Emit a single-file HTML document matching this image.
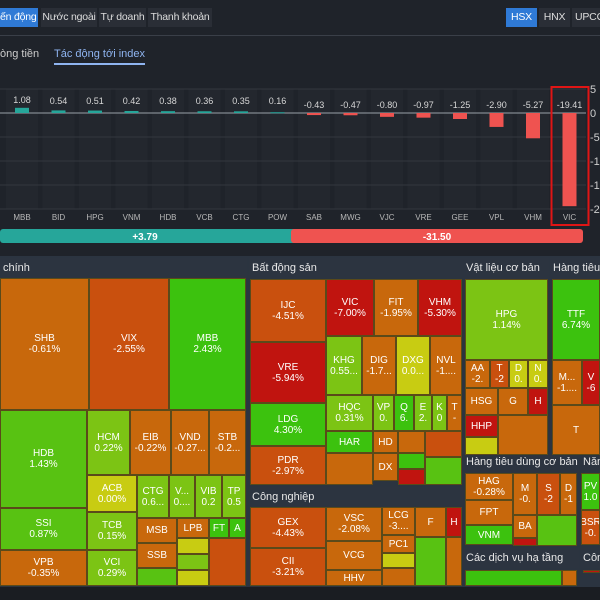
<!DOCTYPE html>
<html><head><meta charset="utf-8"><style>
body{margin:0;width:600px;height:600px;overflow:hidden;background:#1f232a;font-family:"Liberation Sans",sans-serif;color:#e6e6e6;position:relative}
.a{position:absolute;box-sizing:border-box}
.tab{position:absolute;top:8px;height:19px;font-size:10.5px;letter-spacing:-0.2px;line-height:19px;padding:0;background:#2a2e36;color:#ddd;white-space:nowrap;box-sizing:border-box;text-align:center}
.t{position:absolute;box-sizing:border-box;border:1px solid #5a4a1a;display:flex;flex-direction:column;align-items:center;justify-content:center;font-size:10px;line-height:11px;color:#fff;overflow:hidden;text-align:center}
.ph{position:absolute;font-size:11px;color:#e8e8e8;background:#2c3440;box-sizing:border-box;padding-left:3px;line-height:20px;height:20px;white-space:nowrap;overflow:hidden}
</style></head><body>
<div class="tab" style="left:0;width:38px;background:#2f7ad6;color:#fff;text-align:right;padding-right:2px">ến động</div>
<div class="tab" style="left:41px;width:56px">Nước ngoài</div>
<div class="tab" style="left:99px;width:47px">Tự doanh</div>
<div class="tab" style="left:148px;width:64px">Thanh khoản</div>
<div class="tab" style="left:506px;width:31px;background:#2f7ad6;color:#fff">HSX</div>
<div class="tab" style="left:539px;width:31px">HNX</div>
<div class="tab" style="left:572px;width:40px;text-align:left;padding-left:3px">UPCOM</div>
<div class="a" style="left:0;top:35px;width:600px;height:1px;background:#3a3f48"></div>
<div class="a" style="left:0;top:48px;font-size:11px;color:#ccc">òng tiền</div>
<div class="a" style="left:54px;top:48px;font-size:11px;color:#8fb4f0;border-bottom:2px solid #8fb4f0;padding-bottom:3px">Tác động tới index</div>
<svg class="a" style="left:0;top:0" width="600" height="250" id="chart"></svg>
<div id="tm"></div>
<script>
const tickers=["MBB","BID","HPG","VNM","HDB","VCB","CTG","POW","SAB","MWG","VJC","VRE","GEE","VPL","VHM","VIC"];
const impacts=[1.08,0.54,0.51,0.42,0.38,0.36,0.35,0.16,-0.43,-0.47,-0.80,-0.97,-1.25,-2.90,-5.27,-19.41];
const yTicks=[5,0,-5,-10,-15,-20];
const yTickLabels=["5","0","-5","-1","-1","-2"];
const totalUp=3.79, totalDown=-31.50;
const NS="http://www.w3.org/2000/svg";
const svg=document.getElementById("chart");
const y=v=>113-v*4.8;
const x=i=>22+i*36.5;
function el(t,a){const e=document.createElementNS(NS,t);for(const k in a)e.setAttribute(k,a[k]);svg.appendChild(e);return e;}
tickers.forEach((t,i)=>{const b=el("rect",{x:x(i)-16,y:y(5),width:32,height:y(-20)-y(5),fill:"#23272e"});

});
yTicks.forEach((v,i)=>{const l=el("line",{x1:0,x2:586,y1:y(v),y2:y(v),stroke:v===0?"#9aa0a8":"#33373f","stroke-width":1});


const tx=el("text",{x:590,y:y(v)+4,fill:"#cfcfcf","font-size":11});tx.textContent=yTickLabels[i];

});
impacts.forEach((v,i)=>{const top=Math.min(y(v),y(0)),h=Math.abs(y(v)-y(0));
const r=el("rect",{x:x(i)-7,y:top,width:14,height:Math.max(h,1),fill:v>=0?"#26a69a":"#ef5350"});


const tv=el("text",{x:x(i),y:v>=0?Math.min(y(v)-5,104):108,fill:"#d8d8d8","font-size":9,"text-anchor":"middle"});tv.textContent=v.toFixed(2);


const tl=el("text",{x:x(i),y:220,fill:"#b8b8b8","font-size":8,"text-anchor":"middle"});tl.textContent=tickers[i];

});
const hb=el("rect",{x:x(15)-18,y:87,width:37,height:138,fill:"none",stroke:"#e01515","stroke-width":2});


const g=el("rect",{x:0,y:229,width:300,height:14,rx:3,fill:"#26a69a"});


const rd=el("rect",{x:291,y:229,width:292,height:14,rx:3,fill:"#ef5350"});


const t1=el("text",{x:145,y:240,fill:"#fff","font-size":10,"font-weight":"bold","text-anchor":"middle"});t1.textContent="+"+totalUp.toFixed(2);


const t2=el("text",{x:437,y:240,fill:"#fff","font-size":10,"font-weight":"bold","text-anchor":"middle"});t2.textContent=totalDown.toFixed(2);



const O="#c8680c",DO="#c9500e",R="#c0140f",G="#3cc20e",LG="#7cc414",Y="#c8cc12",MG="#58c212";
const panels=[[0,258,247,330,"chính"],[249,258,214,230,"Bất động sản"],[249,487,214,101,"Công nghiệp"],[463,258,86,198,"Vật liệu cơ bản"],[550,258,50,198,"Hàng tiêu dùng"],[463,452,116,95,"Hàng tiêu dùng cơ bản"],[580,452,20,95,"Năng lượng"],[463,548,116,40,"Các dịch vụ hạ tầng"],[580,548,20,40,"Công nghệ"]];
const tiles=[
[0,278,89,132,O,"SHB","-0.61%"],[89,278,80,132,DO,"VIX","-2.55%"],[169,278,77,132,G,"MBB","2.43%"],
[0,410,87,98,MG,"HDB","1.43%"],[87,410,43,65,LG,"HCM","0.22%"],[130,410,41,65,O,"EIB","-0.22%"],[171,410,38,65,O,"VND","-0.27..."],[209,410,37,65,O,"STB","-0.2..."],
[87,475,50,37,Y,"ACB","0.00%"],[137,475,32,43,LG,"CTG","0.6..."],[169,475,26,43,LG,"V...","0...."],[195,475,27,43,LG,"VIB","0.2"],[222,475,24,43,LG,"TP","0.5"],
[0,508,87,42,MG,"SSI","0.87%"],[0,550,87,36,O,"VPB","-0.35%"],[87,512,50,38,LG,"TCB","0.15%"],[87,550,50,36,LG,"VCI","0.29%"],
[137,518,40,25,O,"MSB",""],[137,543,40,25,O,"SSB",""],[137,568,40,18,MG,"",""],[177,518,32,20,O,"LPB",""],[209,518,20,20,G,"FT",""],[229,518,17,20,G,"A",""],
[177,538,32,16,Y,"",""],[177,554,32,16,LG,"",""],[177,570,32,16,Y,"",""],[209,538,37,48,DO,"",""],
[250,279,76,63,DO,"IJC","-4.51%"],[250,342,76,61,R,"VRE","-5.94%"],[250,403,76,43,G,"LDG","4.30%"],[250,446,76,39,DO,"PDR","-2.97%"],
[326,279,48,57,R,"VIC","-7.00%"],[374,279,44,57,O,"FIT","-1.95%"],[418,279,44,57,R,"VHM","-5.30%"],
[326,336,36,59,LG,"KHG","0.55..."],[362,336,34,59,O,"DIG","-1.7..."],[396,336,34,59,Y,"DXG","0.0..."],[430,336,32,59,O,"NVL","-1...."],
[326,395,47,36,LG,"HQC","0.31%"],[373,395,21,36,LG,"VP","0."],[394,395,20,36,G,"Q","6."],[414,395,18,36,LG,"E","2."],[432,395,15,36,LG,"K","0"],[447,395,15,36,O,"T","-"],
[326,431,47,22,G,"HAR",""],[326,453,47,32,O,"",""],[373,431,25,22,O,"HD",""],[373,453,25,28,O,"DX",""],[398,431,27,22,O,"",""],[398,453,27,16,G,"",""],[398,469,27,16,R,"",""],[425,431,37,26,DO,"",""],[425,457,37,28,MG,"",""],
[250,507,76,41,DO,"GEX","-4.43%"],[250,548,76,38,DO,"CII","-3.21%"],[326,507,56,34,O,"VSC","-2.08%"],[326,541,56,29,O,"VCG",""],[326,570,56,16,O,"HHV",""],
[382,507,33,28,O,"LCG","-3...."],[382,535,33,18,O,"PC1",""],[382,553,33,15,Y,"",""],[382,568,33,18,O,"",""],[415,507,31,30,O,"F",""],[415,537,31,49,MG,"",""],[446,507,16,30,R,"H",""],[446,537,16,49,O,"",""],
[465,279,83,81,LG,"HPG","1.14%"],[465,360,25,28,O,"AA","-2."],[490,360,19,28,DO,"T","-2"],[509,360,19,28,Y,"D","0."],[528,360,20,28,Y,"N","0."],
[465,388,33,27,O,"HSG",""],[498,388,30,27,O,"G",""],[528,388,20,27,R,"H",""],[465,415,33,22,R,"HHP",""],[465,437,33,18,Y,"",""],[498,415,50,40,O,"",""],
[552,279,48,81,G,"TTF","6.74%"],[552,360,30,45,O,"M...","-1...."],[582,360,18,45,R,"V","-6"],[552,405,48,50,O,"T",""],
[465,473,48,27,O,"HAG","-0.28%"],[465,500,48,25,O,"FPT",""],[465,525,48,20,G,"VNM",""],[513,473,24,42,O,"M","-0."],[537,473,23,42,DO,"S","-2"],[560,473,17,42,O,"D","-1"],[513,515,24,23,O,"BA",""],[513,538,24,8,R,"",""],[537,515,40,31,MG,"",""],
[581,473,19,37,G,"PV","1.0"],[581,510,19,35,DO,"BSR","-0."],
[465,570,97,16,G,"",""],[562,570,15,16,O,"",""],[583,570,17,3,R,"",""]];
const tm=document.getElementById("tm");
const bg=document.createElement("div");bg.className="a";bg.style.cssText="left:0;top:256px;width:600px;height:334px;background:#2b3440";


tm.appendChild(bg);
panels.forEach(p=>{const d=document.createElement("div");d.className="ph";d.style.left=p[0]+"px";d.style.top=p[1]+"px";d.style.width=p[2]+"px";d.textContent=p[4];


tm.appendChild(d);});
tiles.forEach(t=>{const d=document.createElement("div");d.className="t";d.style.cssText=`left:${t[0]}px;top:${t[1]}px;width:${t[2]}px;height:${t[3]}px;background:${t[4]}`;
d.innerHTML=(t[5]?"<span>"+t[5]+"</span>":"")+(t[6]?"<span>"+t[6]+"</span>":"");


tm.appendChild(d);});
const ft=document.createElement("div");ft.className="a";ft.style.cssText="left:0;top:587px;width:600px;height:13px;background:#1a1d22";


tm.appendChild(ft);
</script>
</body></html>
